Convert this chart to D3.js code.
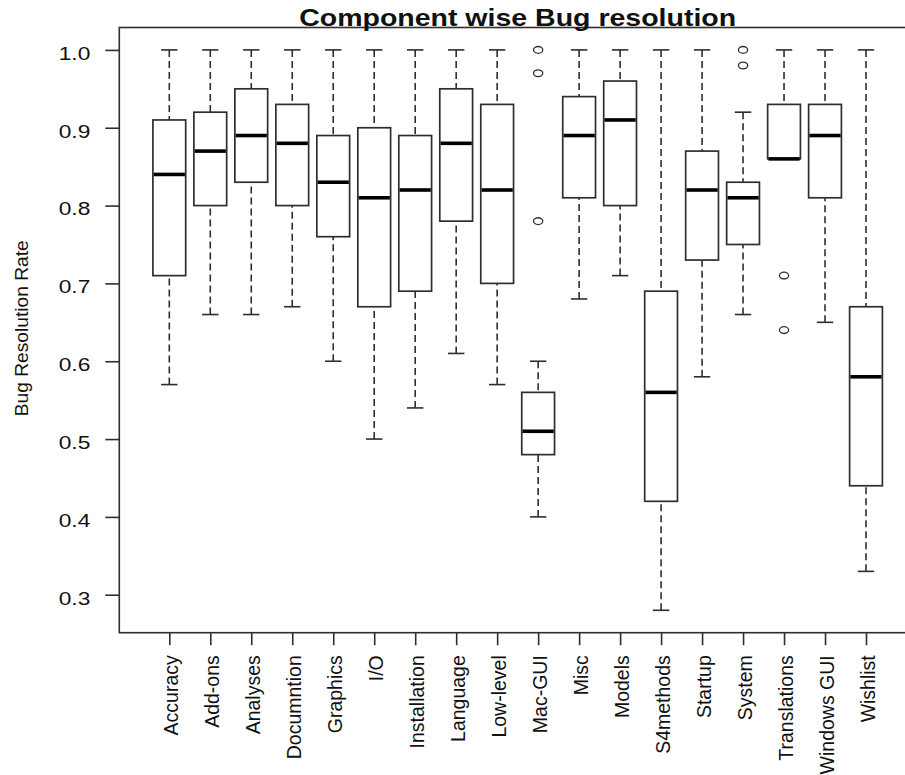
<!DOCTYPE html>
<html>
<head>
<meta charset="utf-8">
<script src="https://cdn.jsdelivr.net/npm/d3@7"></script>
<style>
  body { margin: 0; background: #fff; }
  text { font-family: "Liberation Sans", Arial, sans-serif; fill: #111; }
</style>
</head>
<body>
<div id="chart"></div>
<script>
// Component names (x axis)
const categories = ["Accuracy", "Add-ons", "Analyses", "Documntion", "Graphics", "I/O",
  "Installation", "Language", "Low-level", "Mac-GUI", "Misc", "Models", "S4methods",
  "Startup", "System", "Translations", "Windows GUI", "Wishlist"];

// Five-number summaries
const whiskerLow = [0.57, 0.66, 0.66, 0.67, 0.60, 0.50, 0.54, 0.61, 0.57, 0.40, 0.68, 0.71, 0.28, 0.58, 0.66, 0.86, 0.65, 0.33];
const q1         = [0.71, 0.80, 0.83, 0.80, 0.76, 0.67, 0.69, 0.78, 0.70, 0.48, 0.81, 0.80, 0.42, 0.73, 0.75, 0.86, 0.81, 0.44];
const medians    = [0.84, 0.87, 0.89, 0.88, 0.83, 0.81, 0.82, 0.88, 0.82, 0.51, 0.89, 0.91, 0.56, 0.82, 0.81, 0.86, 0.89, 0.58];
const q3         = [0.91, 0.92, 0.95, 0.93, 0.89, 0.90, 0.89, 0.95, 0.93, 0.56, 0.94, 0.96, 0.69, 0.87, 0.83, 0.93, 0.93, 0.67];
const whiskerHigh= [1.00, 1.00, 1.00, 1.00, 1.00, 1.00, 1.00, 1.00, 1.00, 0.60, 1.00, 1.00, 1.00, 1.00, 0.92, 1.00, 1.00, 1.00];

// Outliers: [component, value]
const outliers = [
  ["Mac-GUI", 1.00], ["Mac-GUI", 0.97], ["Mac-GUI", 0.78],
  ["System", 1.00], ["System", 0.98],
  ["Translations", 0.71], ["Translations", 0.64]
];

const yTicks = [0.3, 0.4, 0.5, 0.6, 0.7, 0.8, 0.9, 1.0];

const width = 905, height = 775;
const frame = { left: 119.3, right: 916, top: 27.5, bottom: 632.7 };

const svg = d3.select("#chart").append("svg")
  .attr("width", width)
  .attr("height", height);

svg.append("rect").attr("width", width).attr("height", height).attr("fill", "#fff");

// R-style scales: index 1..n, padded by 4%
const n = categories.length;
const x = d3.scaleLinear()
  .domain([0.5 - 0.04 * n, n + 0.5 + 0.04 * n])
  .range([frame.left, frame.right]);

const y = d3.scaleLinear()
  .domain([0.28 - 0.04 * 0.72, 1.0 + 0.04 * 0.72])
  .range([frame.bottom, frame.top]);

const boxW = (x(2) - x(1)) * 0.8;
const stroke = "#2e2e2e";

const data = categories.map((c, i) => ({
  name: c, i: i + 1,
  lo: whiskerLow[i], q1: q1[i], med: medians[i], q3: q3[i], hi: whiskerHigh[i]
}));

const g = svg.append("g");

const box = g.selectAll(".box")
  .data(data)
  .enter().append("g")
  .attr("class", "box");

// dashed whiskers, drawn from the end toward the box, then the staples
[["hi", "q3"], ["lo", "q1"]].forEach(([end, edge]) => {
  box.append("line")
    .attr("x1", d => x(d.i)).attr("x2", d => x(d.i))
    .attr("y1", d => y(d[end])).attr("y2", d => y(d[edge]))
    .attr("stroke", stroke).attr("stroke-width", 1.6)
    .attr("stroke-dasharray", "7,4");

  box.append("line")
    .attr("x1", d => x(d.i) - boxW / 4).attr("x2", d => x(d.i) + boxW / 4)
    .attr("y1", d => y(d[end])).attr("y2", d => y(d[end]))
    .attr("stroke", stroke).attr("stroke-width", 1.6);
});

box.append("rect")
  .attr("x", d => x(d.i) - boxW / 2)
  .attr("width", boxW)
  .attr("y", d => y(d.q3))
  .attr("height", d => y(d.q1) - y(d.q3))
  .attr("fill", "#fff")
  .attr("stroke", stroke).attr("stroke-width", 1.7);

box.append("line")
  .attr("x1", d => x(d.i) - boxW / 2 + 0.8).attr("x2", d => x(d.i) + boxW / 2 - 0.8)
  .attr("y1", d => y(d.med)).attr("y2", d => y(d.med))
  .attr("stroke", "#000").attr("stroke-width", 3.6);

// Outliers
g.selectAll(".outlier")
  .data(outliers)
  .enter().append("ellipse")
  .attr("class", "outlier")
  .attr("cx", d => x(categories.indexOf(d[0]) + 1))
  .attr("cy", d => y(d[1]))
  .attr("rx", 4.6).attr("ry", 3.4)
  .attr("fill", "none")
  .attr("stroke", stroke).attr("stroke-width", 1.3);

// Frame
svg.append("rect")
  .attr("x", frame.left).attr("y", frame.top)
  .attr("width", frame.right - frame.left)
  .attr("height", frame.bottom - frame.top)
  .attr("fill", "none")
  .attr("stroke", stroke).attr("stroke-width", 1.6);

// Y axis
const yAxis = svg.append("g")
  .attr("transform", "translate(" + frame.left + ",0)")
  .call(d3.axisLeft(y).tickValues(yTicks).tickSize(14).tickFormat(d3.format(".1f")));
yAxis.select(".domain").remove();
yAxis.selectAll("line").attr("stroke", stroke).attr("stroke-width", 1.6);
yAxis.selectAll("text")
  .attr("x", null).attr("dy", null)
  .attr("transform", "translate(-29,9.3) scale(1.23,1)")
  .attr("text-anchor", "end")
  .style("font-size", "18.5px")
  .attr("fill", "#1a1a1a");

// X axis
const xAxis = svg.append("g")
  .attr("transform", "translate(0," + frame.bottom + ")")
  .call(d3.axisBottom(x).tickValues(d3.range(1, n + 1)).tickSize(12.5)
    .tickFormat(i => categories[i - 1]));
xAxis.select(".domain").remove();
xAxis.selectAll("line").attr("stroke", stroke).attr("stroke-width", 1.6);
xAxis.selectAll("text")
  .attr("y", null).attr("dy", null)
  .attr("transform", "translate(8,22.5) rotate(-90)")
  .attr("text-anchor", "end")
  .style("font-size", "19.5px")
  .attr("fill", "#1a1a1a");

// Title
svg.append("text")
  .attr("transform", "translate(" + ((frame.left + frame.right) / 2) + ",26) scale(1.24,1)")
  .attr("text-anchor", "middle")
  .style("font-size", "23px")
  .style("font-weight", "bold")
  .text("Component wise Bug resolution");

// Y label
svg.append("text")
  .attr("transform", "translate(27.6,328.3) rotate(-90)")
  .attr("text-anchor", "middle")
  .style("font-size", "19.2px")
  .text("Bug Resolution Rate");
</script>
</body>
</html>
